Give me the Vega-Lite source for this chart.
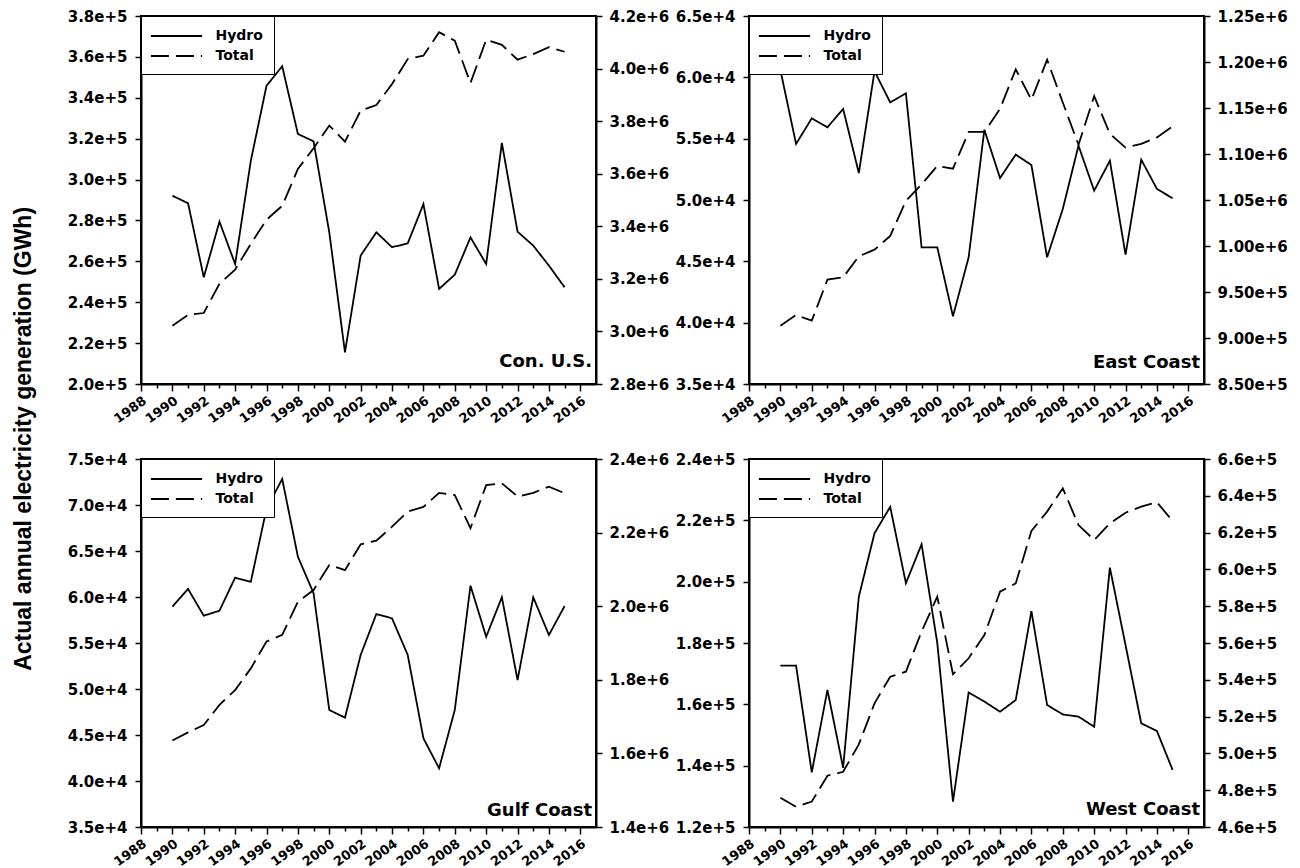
{
"$schema":"https://vega.github.io/schema/vega-lite/v6.json",
"background":"white",
"padding":{"left":13,"top":8,"right":5,"bottom":3},
"title":{"text":"Actual annual electricity generation (GWh)","orient":"left","anchor":"middle","font":"Liberation Sans","fontSize":23,"fontWeight":"bold","color":"black","offset":30},
"config":{
 "font":"DejaVu Sans",
 "view":{"stroke":"black","strokeWidth":2},
 "axis":{"domainColor":"black","domainWidth":2,"tickColor":"black","tickWidth":1.5,"tickSize":6,"labelColor":"black","labelFont":"DejaVu Sans","labelFontWeight":"bold","labelFontSize":15,"grid":false,"title":null,"labelPadding":8,"labelFlush":false,"labelOverlap":false},
 "legend":{"orient":"top-left","offset":0,"strokeColor":"black","fillColor":"white","padding":11,"symbolType":"M-3.2,0H3.2","symbolSize":256,"symbolOffset":15.5,"symbolStrokeWidth":1.8,"symbolStrokeColor":"black","labelFont":"DejaVu Sans","labelFontWeight":"bold","labelFontSize":14,"labelColor":"black","labelOffset":30,"rowPadding":4},
 "line":{"color":"black","strokeWidth":1.8},
 "text":{"font":"DejaVu Sans","fontWeight":"bold","fontSize":18,"color":"black"}
},
"data":{"values":[
{"region":"Con. U.S.","year":1990,"Hydro":292100,"Total":3022000},
{"region":"Con. U.S.","year":1991,"Hydro":288400,"Total":3063000},
{"region":"Con. U.S.","year":1992,"Hydro":252200,"Total":3070000},
{"region":"Con. U.S.","year":1993,"Hydro":279400,"Total":3181000},
{"region":"Con. U.S.","year":1994,"Hydro":258700,"Total":3235000},
{"region":"Con. U.S.","year":1995,"Hydro":309200,"Total":3333000},
{"region":"Con. U.S.","year":1996,"Hydro":345900,"Total":3425000},
{"region":"Con. U.S.","year":1997,"Hydro":355400,"Total":3478000},
{"region":"Con. U.S.","year":1998,"Hydro":322300,"Total":3618000},
{"region":"Con. U.S.","year":1999,"Hydro":318700,"Total":3697000},
{"region":"Con. U.S.","year":2000,"Hydro":274200,"Total":3783000},
{"region":"Con. U.S.","year":2001,"Hydro":215500,"Total":3722000},
{"region":"Con. U.S.","year":2002,"Hydro":262800,"Total":3840000},
{"region":"Con. U.S.","year":2003,"Hydro":274200,"Total":3861000},
{"region":"Con. U.S.","year":2004,"Hydro":266900,"Total":3941000},
{"region":"Con. U.S.","year":2005,"Hydro":268800,"Total":4036000},
{"region":"Con. U.S.","year":2006,"Hydro":288000,"Total":4049000},
{"region":"Con. U.S.","year":2007,"Hydro":246500,"Total":4138000},
{"region":"Con. U.S.","year":2008,"Hydro":253500,"Total":4106000},
{"region":"Con. U.S.","year":2009,"Hydro":271700,"Total":3945000},
{"region":"Con. U.S.","year":2010,"Hydro":258700,"Total":4110000},
{"region":"Con. U.S.","year":2011,"Hydro":317900,"Total":4090000},
{"region":"Con. U.S.","year":2012,"Hydro":274500,"Total":4034000},
{"region":"Con. U.S.","year":2013,"Hydro":267700,"Total":4055000},
{"region":"Con. U.S.","year":2014,"Hydro":257900,"Total":4081000},
{"region":"Con. U.S.","year":2015,"Hydro":247300,"Total":4064000},
{"region":"East Coast","year":1990,"Hydro":60600,"Total":913400},
{"region":"East Coast","year":1991,"Hydro":54570,"Total":925000},
{"region":"East Coast","year":1992,"Hydro":56660,"Total":918800},
{"region":"East Coast","year":1993,"Hydro":55930,"Total":963400},
{"region":"East Coast","year":1994,"Hydro":57420,"Total":966000},
{"region":"East Coast","year":1995,"Hydro":52200,"Total":988800},
{"region":"East Coast","year":1996,"Hydro":60500,"Total":996000},
{"region":"East Coast","year":1997,"Hydro":57960,"Total":1011000},
{"region":"East Coast","year":1998,"Hydro":58700,"Total":1049000},
{"region":"East Coast","year":1999,"Hydro":46140,"Total":1067000},
{"region":"East Coast","year":2000,"Hydro":46140,"Total":1087000},
{"region":"East Coast","year":2001,"Hydro":40520,"Total":1084000},
{"region":"East Coast","year":2002,"Hydro":45330,"Total":1124000},
{"region":"East Coast","year":2003,"Hydro":55730,"Total":1124000},
{"region":"East Coast","year":2004,"Hydro":51790,"Total":1149000},
{"region":"East Coast","year":2005,"Hydro":53700,"Total":1192000},
{"region":"East Coast","year":2006,"Hydro":52850,"Total":1159000},
{"region":"East Coast","year":2007,"Hydro":45330,"Total":1202500},
{"region":"East Coast","year":2008,"Hydro":49270,"Total":1156000},
{"region":"East Coast","year":2009,"Hydro":54430,"Total":1110000},
{"region":"East Coast","year":2010,"Hydro":50760,"Total":1163000},
{"region":"East Coast","year":2011,"Hydro":53200,"Total":1122000},
{"region":"East Coast","year":2012,"Hydro":45540,"Total":1107000},
{"region":"East Coast","year":2013,"Hydro":53290,"Total":1111000},
{"region":"East Coast","year":2014,"Hydro":50900,"Total":1118000},
{"region":"East Coast","year":2015,"Hydro":50140,"Total":1130000},
{"region":"Gulf Coast","year":1990,"Hydro":58950,"Total":1635000},
{"region":"Gulf Coast","year":1991,"Hydro":60870,"Total":1657000},
{"region":"Gulf Coast","year":1992,"Hydro":57970,"Total":1677000},
{"region":"Gulf Coast","year":1993,"Hydro":58510,"Total":1732000},
{"region":"Gulf Coast","year":1994,"Hydro":62100,"Total":1772000},
{"region":"Gulf Coast","year":1995,"Hydro":61660,"Total":1831000},
{"region":"Gulf Coast","year":1996,"Hydro":69600,"Total":1904000},
{"region":"Gulf Coast","year":1997,"Hydro":72830,"Total":1922000},
{"region":"Gulf Coast","year":1998,"Hydro":64380,"Total":2012000},
{"region":"Gulf Coast","year":1999,"Hydro":60400,"Total":2044000},
{"region":"Gulf Coast","year":2000,"Hydro":47720,"Total":2112000},
{"region":"Gulf Coast","year":2001,"Hydro":46880,"Total":2098000},
{"region":"Gulf Coast","year":2002,"Hydro":53700,"Total":2168000},
{"region":"Gulf Coast","year":2003,"Hydro":58150,"Total":2178000},
{"region":"Gulf Coast","year":2004,"Hydro":57680,"Total":2216000},
{"region":"Gulf Coast","year":2005,"Hydro":53700,"Total":2257000},
{"region":"Gulf Coast","year":2006,"Hydro":44640,"Total":2270000},
{"region":"Gulf Coast","year":2007,"Hydro":41380,"Total":2308000},
{"region":"Gulf Coast","year":2008,"Hydro":47720,"Total":2302000},
{"region":"Gulf Coast","year":2009,"Hydro":61230,"Total":2212000},
{"region":"Gulf Coast","year":2010,"Hydro":55680,"Total":2329000},
{"region":"Gulf Coast","year":2011,"Hydro":59970,"Total":2334000},
{"region":"Gulf Coast","year":2012,"Hydro":50980,"Total":2298000},
{"region":"Gulf Coast","year":2013,"Hydro":59970,"Total":2308000},
{"region":"Gulf Coast","year":2014,"Hydro":55870,"Total":2325000},
{"region":"Gulf Coast","year":2015,"Hydro":59020,"Total":2307000},
{"region":"West Coast","year":1990,"Hydro":172600,"Total":475900},
{"region":"West Coast","year":1991,"Hydro":172600,"Total":471000},
{"region":"West Coast","year":1992,"Hydro":137800,"Total":473800},
{"region":"West Coast","year":1993,"Hydro":164700,"Total":487900},
{"region":"West Coast","year":1994,"Hydro":139300,"Total":490000},
{"region":"West Coast","year":1995,"Hydro":195100,"Total":504900},
{"region":"West Coast","year":1996,"Hydro":215800,"Total":527200},
{"region":"West Coast","year":1997,"Hydro":224400,"Total":541700},
{"region":"West Coast","year":1998,"Hydro":199500,"Total":544400},
{"region":"West Coast","year":1999,"Hydro":212200,"Total":566200},
{"region":"West Coast","year":2000,"Hydro":180000,"Total":585200},
{"region":"West Coast","year":2001,"Hydro":128300,"Total":543000},
{"region":"West Coast","year":2002,"Hydro":163900,"Total":551700},
{"region":"West Coast","year":2003,"Hydro":160900,"Total":564300},
{"region":"West Coast","year":2004,"Hydro":157600,"Total":587900},
{"region":"West Coast","year":2005,"Hydro":161400,"Total":592400},
{"region":"West Coast","year":2006,"Hydro":190400,"Total":620900},
{"region":"West Coast","year":2007,"Hydro":159800,"Total":631400},
{"region":"West Coast","year":2008,"Hydro":156700,"Total":644100},
{"region":"West Coast","year":2009,"Hydro":156000,"Total":624100},
{"region":"West Coast","year":2010,"Hydro":152700,"Total":616000},
{"region":"West Coast","year":2011,"Hydro":204600,"Total":625000},
{"region":"West Coast","year":2012,"Hydro":179300,"Total":630800},
{"region":"West Coast","year":2013,"Hydro":153800,"Total":634100},
{"region":"West Coast","year":2014,"Hydro":151300,"Total":636500},
{"region":"West Coast","year":2015,"Hydro":138600,"Total":626300}
]},
"columns":2,
"spacing":{"row":24,"column":4},
"align":"each",
"resolve":{"scale":{"x":"independent","y":"independent","strokeDash":"independent"},"legend":{"strokeDash":"independent"}},
"concat":[
{"width":455,"height":368,"resolve":{"scale":{"y":"independent"}},
 "layer":[
  {"layer":[
   {"transform":[{"filter":"datum.region === 'Con. U.S.'"},{"fold":["Hydro","Total"],"as":["series","value"]},{"filter":"datum.series === 'Hydro'"}],
    "mark":{"type":"line"},
    "encoding":{
     "x":{"field":"year","type":"quantitative","scale":{"domain":[1988,2017],"nice":false,"zero":false},"axis":{"values":[1988,1989,1990,1991,1992,1993,1994,1995,1996,1997,1998,1999,2000,2001,2002,2003,2004,2005,2006,2007,2008,2009,2010,2011,2012,2013,2014,2015,2016],"format":"d","labelExpr":"datum.value % 2 === 0 ? datum.label : ''","labelOverlap":false,"tickSize":{"condition":{"test":"datum.value % 2 === 0","value":7},"value":4},"labelAngle":-36,"labelAlign":"right","labelBaseline":"top","labelFontSize":13,"labelPadding":3}},
     "y":{"field":"value","type":"quantitative","scale":{"domain":[200000,380000],"nice":false,"zero":false},"axis":{"values":[200000,220000,240000,260000,280000,300000,320000,340000,360000,380000],"format":".1e"}},
     "strokeDash":{"field":"series","type":"nominal","scale":{"domain":["Hydro","Total"],"range":[[1,0],[18,7]]},"legend":{"title":null}}
    }},
   {"data":{"values":[{"label":"Con. U.S."}]},
    "mark":{"type":"text","align":"right","baseline":"alphabetic","dx":-4},
    "encoding":{"x":{"datum":2017,"type":"quantitative","axis":{"values":[1988,1989,1990,1991,1992,1993,1994,1995,1996,1997,1998,1999,2000,2001,2002,2003,2004,2005,2006,2007,2008,2009,2010,2011,2012,2013,2014,2015,2016],"format":"d","labelExpr":"datum.value % 2 === 0 ? datum.label : ''","labelOverlap":false,"tickSize":{"condition":{"test":"datum.value % 2 === 0","value":7},"value":4},"labelAngle":-36,"labelAlign":"right","labelBaseline":"top","labelFontSize":13,"labelPadding":3}},"y":{"datum":208300,"type":"quantitative"},"text":{"field":"label"}}}
  ]},
  {"transform":[{"filter":"datum.region === 'Con. U.S.'"},{"fold":["Hydro","Total"],"as":["series","value"]},{"filter":"datum.series === 'Total'"}],
   "mark":{"type":"line"},
   "encoding":{
    "x":{"field":"year","type":"quantitative","axis":{"values":[1988,1989,1990,1991,1992,1993,1994,1995,1996,1997,1998,1999,2000,2001,2002,2003,2004,2005,2006,2007,2008,2009,2010,2011,2012,2013,2014,2015,2016],"format":"d","labelExpr":"datum.value % 2 === 0 ? datum.label : ''","labelOverlap":false,"tickSize":{"condition":{"test":"datum.value % 2 === 0","value":7},"value":4},"labelAngle":-36,"labelAlign":"right","labelBaseline":"top","labelFontSize":13,"labelPadding":3}},
    "y":{"field":"value","type":"quantitative","scale":{"domain":[2800000,4200000],"nice":false,"zero":false},"axis":{"orient":"right","values":[2800000,3000000,3200000,3400000,3600000,3800000,4000000,4200000],"format":".1e","labelPadding":7}},
    "strokeDash":{"field":"series","type":"nominal","legend":{"title":null}}
   }}
 ]},
{"width":455,"height":368,"resolve":{"scale":{"y":"independent"}},
 "layer":[
  {"layer":[
   {"transform":[{"filter":"datum.region === 'East Coast'"},{"fold":["Hydro","Total"],"as":["series","value"]},{"filter":"datum.series === 'Hydro'"}],
    "mark":{"type":"line"},
    "encoding":{
     "x":{"field":"year","type":"quantitative","scale":{"domain":[1988,2017],"nice":false,"zero":false},"axis":{"values":[1988,1989,1990,1991,1992,1993,1994,1995,1996,1997,1998,1999,2000,2001,2002,2003,2004,2005,2006,2007,2008,2009,2010,2011,2012,2013,2014,2015,2016],"format":"d","labelExpr":"datum.value % 2 === 0 ? datum.label : ''","labelOverlap":false,"tickSize":{"condition":{"test":"datum.value % 2 === 0","value":7},"value":4},"labelAngle":-36,"labelAlign":"right","labelBaseline":"top","labelFontSize":13,"labelPadding":3}},
     "y":{"field":"value","type":"quantitative","scale":{"domain":[35000,65000],"nice":false,"zero":false},"axis":{"values":[35000,40000,45000,50000,55000,60000,65000],"format":".1e"}},
     "strokeDash":{"field":"series","type":"nominal","scale":{"domain":["Hydro","Total"],"range":[[1,0],[18,7]]},"legend":{"title":null}}
    }},
   {"data":{"values":[{"label":"East Coast"}]},
    "mark":{"type":"text","align":"right","baseline":"alphabetic","dx":-4},
    "encoding":{"x":{"datum":2017,"type":"quantitative","axis":{"values":[1988,1989,1990,1991,1992,1993,1994,1995,1996,1997,1998,1999,2000,2001,2002,2003,2004,2005,2006,2007,2008,2009,2010,2011,2012,2013,2014,2015,2016],"format":"d","labelExpr":"datum.value % 2 === 0 ? datum.label : ''","labelOverlap":false,"tickSize":{"condition":{"test":"datum.value % 2 === 0","value":7},"value":4},"labelAngle":-36,"labelAlign":"right","labelBaseline":"top","labelFontSize":13,"labelPadding":3}},"y":{"datum":36300,"type":"quantitative"},"text":{"field":"label"}}}
  ]},
  {"transform":[{"filter":"datum.region === 'East Coast'"},{"fold":["Hydro","Total"],"as":["series","value"]},{"filter":"datum.series === 'Total'"}],
   "mark":{"type":"line"},
   "encoding":{
    "x":{"field":"year","type":"quantitative","axis":{"values":[1988,1989,1990,1991,1992,1993,1994,1995,1996,1997,1998,1999,2000,2001,2002,2003,2004,2005,2006,2007,2008,2009,2010,2011,2012,2013,2014,2015,2016],"format":"d","labelExpr":"datum.value % 2 === 0 ? datum.label : ''","labelOverlap":false,"tickSize":{"condition":{"test":"datum.value % 2 === 0","value":7},"value":4},"labelAngle":-36,"labelAlign":"right","labelBaseline":"top","labelFontSize":13,"labelPadding":3}},
    "y":{"field":"value","type":"quantitative","scale":{"domain":[850000,1250000],"nice":false,"zero":false},"axis":{"orient":"right","values":[850000,900000,950000,1000000,1050000,1100000,1150000,1200000,1250000],"format":".2e","labelPadding":7}},
    "strokeDash":{"field":"series","type":"nominal","legend":{"title":null}}
   }}
 ]},
{"width":455,"height":368,"resolve":{"scale":{"y":"independent"}},
 "layer":[
  {"layer":[
   {"transform":[{"filter":"datum.region === 'Gulf Coast'"},{"fold":["Hydro","Total"],"as":["series","value"]},{"filter":"datum.series === 'Hydro'"}],
    "mark":{"type":"line"},
    "encoding":{
     "x":{"field":"year","type":"quantitative","scale":{"domain":[1988,2017],"nice":false,"zero":false},"axis":{"values":[1988,1989,1990,1991,1992,1993,1994,1995,1996,1997,1998,1999,2000,2001,2002,2003,2004,2005,2006,2007,2008,2009,2010,2011,2012,2013,2014,2015,2016],"format":"d","labelExpr":"datum.value % 2 === 0 ? datum.label : ''","labelOverlap":false,"tickSize":{"condition":{"test":"datum.value % 2 === 0","value":7},"value":4},"labelAngle":-36,"labelAlign":"right","labelBaseline":"top","labelFontSize":13,"labelPadding":3}},
     "y":{"field":"value","type":"quantitative","scale":{"domain":[35000,75000],"nice":false,"zero":false},"axis":{"values":[35000,40000,45000,50000,55000,60000,65000,70000,75000],"format":".1e"}},
     "strokeDash":{"field":"series","type":"nominal","scale":{"domain":["Hydro","Total"],"range":[[1,0],[18,7]]},"legend":{"title":null}}
    }},
   {"data":{"values":[{"label":"Gulf Coast"}]},
    "mark":{"type":"text","align":"right","baseline":"alphabetic","dx":-4},
    "encoding":{"x":{"datum":2017,"type":"quantitative","axis":{"values":[1988,1989,1990,1991,1992,1993,1994,1995,1996,1997,1998,1999,2000,2001,2002,2003,2004,2005,2006,2007,2008,2009,2010,2011,2012,2013,2014,2015,2016],"format":"d","labelExpr":"datum.value % 2 === 0 ? datum.label : ''","labelOverlap":false,"tickSize":{"condition":{"test":"datum.value % 2 === 0","value":7},"value":4},"labelAngle":-36,"labelAlign":"right","labelBaseline":"top","labelFontSize":13,"labelPadding":3}},"y":{"datum":36200,"type":"quantitative"},"text":{"field":"label"}}}
  ]},
  {"transform":[{"filter":"datum.region === 'Gulf Coast'"},{"fold":["Hydro","Total"],"as":["series","value"]},{"filter":"datum.series === 'Total'"}],
   "mark":{"type":"line"},
   "encoding":{
    "x":{"field":"year","type":"quantitative","axis":{"values":[1988,1989,1990,1991,1992,1993,1994,1995,1996,1997,1998,1999,2000,2001,2002,2003,2004,2005,2006,2007,2008,2009,2010,2011,2012,2013,2014,2015,2016],"format":"d","labelExpr":"datum.value % 2 === 0 ? datum.label : ''","labelOverlap":false,"tickSize":{"condition":{"test":"datum.value % 2 === 0","value":7},"value":4},"labelAngle":-36,"labelAlign":"right","labelBaseline":"top","labelFontSize":13,"labelPadding":3}},
    "y":{"field":"value","type":"quantitative","scale":{"domain":[1400000,2400000],"nice":false,"zero":false},"axis":{"orient":"right","values":[1400000,1600000,1800000,2000000,2200000,2400000],"format":".1e","labelPadding":7}},
    "strokeDash":{"field":"series","type":"nominal","legend":{"title":null}}
   }}
 ]},
{"width":455,"height":368,"resolve":{"scale":{"y":"independent"}},
 "layer":[
  {"layer":[
   {"transform":[{"filter":"datum.region === 'West Coast'"},{"fold":["Hydro","Total"],"as":["series","value"]},{"filter":"datum.series === 'Hydro'"}],
    "mark":{"type":"line"},
    "encoding":{
     "x":{"field":"year","type":"quantitative","scale":{"domain":[1988,2017],"nice":false,"zero":false},"axis":{"values":[1988,1989,1990,1991,1992,1993,1994,1995,1996,1997,1998,1999,2000,2001,2002,2003,2004,2005,2006,2007,2008,2009,2010,2011,2012,2013,2014,2015,2016],"format":"d","labelExpr":"datum.value % 2 === 0 ? datum.label : ''","labelOverlap":false,"tickSize":{"condition":{"test":"datum.value % 2 === 0","value":7},"value":4},"labelAngle":-36,"labelAlign":"right","labelBaseline":"top","labelFontSize":13,"labelPadding":3}},
     "y":{"field":"value","type":"quantitative","scale":{"domain":[120000,240000],"nice":false,"zero":false},"axis":{"values":[120000,140000,160000,180000,200000,220000,240000],"format":".1e"}},
     "strokeDash":{"field":"series","type":"nominal","scale":{"domain":["Hydro","Total"],"range":[[1,0],[18,7]]},"legend":{"title":null}}
    }},
   {"data":{"values":[{"label":"West Coast"}]},
    "mark":{"type":"text","align":"right","baseline":"alphabetic","dx":-4},
    "encoding":{"x":{"datum":2017,"type":"quantitative","axis":{"values":[1988,1989,1990,1991,1992,1993,1994,1995,1996,1997,1998,1999,2000,2001,2002,2003,2004,2005,2006,2007,2008,2009,2010,2011,2012,2013,2014,2015,2016],"format":"d","labelExpr":"datum.value % 2 === 0 ? datum.label : ''","labelOverlap":false,"tickSize":{"condition":{"test":"datum.value % 2 === 0","value":7},"value":4},"labelAngle":-36,"labelAlign":"right","labelBaseline":"top","labelFontSize":13,"labelPadding":3}},"y":{"datum":123900,"type":"quantitative"},"text":{"field":"label"}}}
  ]},
  {"transform":[{"filter":"datum.region === 'West Coast'"},{"fold":["Hydro","Total"],"as":["series","value"]},{"filter":"datum.series === 'Total'"}],
   "mark":{"type":"line"},
   "encoding":{
    "x":{"field":"year","type":"quantitative","axis":{"values":[1988,1989,1990,1991,1992,1993,1994,1995,1996,1997,1998,1999,2000,2001,2002,2003,2004,2005,2006,2007,2008,2009,2010,2011,2012,2013,2014,2015,2016],"format":"d","labelExpr":"datum.value % 2 === 0 ? datum.label : ''","labelOverlap":false,"tickSize":{"condition":{"test":"datum.value % 2 === 0","value":7},"value":4},"labelAngle":-36,"labelAlign":"right","labelBaseline":"top","labelFontSize":13,"labelPadding":3}},
    "y":{"field":"value","type":"quantitative","scale":{"domain":[460000,660000],"nice":false,"zero":false},"axis":{"orient":"right","values":[460000,480000,500000,520000,540000,560000,580000,600000,620000,640000,660000],"format":".1e","labelPadding":7}},
    "strokeDash":{"field":"series","type":"nominal","legend":{"title":null}}
   }}
 ]}
]
}
